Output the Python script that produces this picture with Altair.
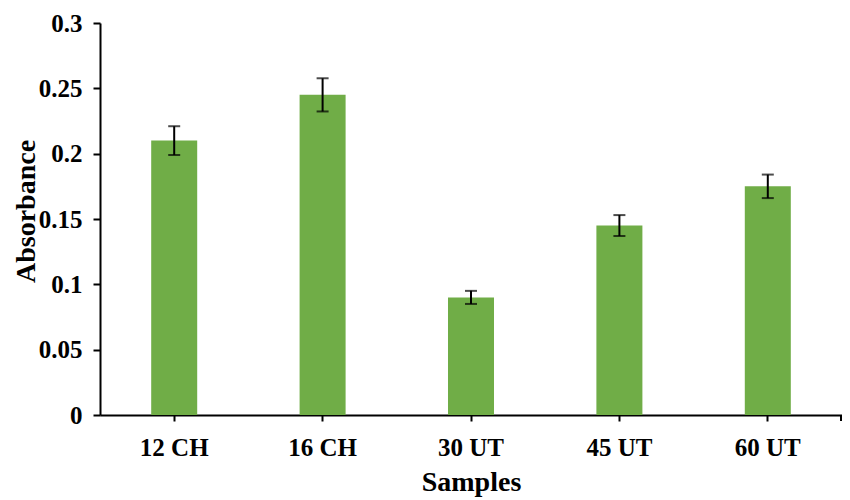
import altair as alt
import pandas as pd

samples = ["12 CH", "16 CH", "30 UT", "45 UT", "60 UT"]
absorbance = [0.21, 0.245, 0.09, 0.145, 0.175]
errors = [0.011, 0.0127, 0.005, 0.008, 0.009]
y_ticks = [0, 0.05, 0.1, 0.15, 0.2, 0.25, 0.3]

df = pd.DataFrame({"Samples": samples, "Absorbance": absorbance, "err": errors})
df["lo"] = df["Absorbance"] - df["err"]
df["hi"] = df["Absorbance"] + df["err"]

W, H = 742, 392
FONT = "Liberation Serif"

x_enc = alt.X(
    "Samples:N",
    sort=samples,
    scale=alt.Scale(paddingInner=0, paddingOuter=0),
    axis=alt.Axis(
        title="Samples",
        labelAngle=0,
        labelFont=FONT,
        labelFontSize=25,
        labelFontWeight="bold",
        labelColor="black",
        labelPadding=14,
        tickSize=6,
        tickWidth=2,
        tickColor="black",
        domainColor="black",
        domainWidth=2,
        titleFont=FONT,
        titleFontSize=28,
        titleFontWeight="bold",
        titleColor="black",
        titleY=67,
        titleBaseline="middle",
        grid=False,
    ),
)

y_scale = alt.Scale(domain=[0, 0.3], nice=False)

bars = alt.Chart(df).mark_bar(color="#70AD47", width={"band": 0.31}).encode(
    x=x_enc,
    y=alt.Y(
        "Absorbance:Q",
        scale=y_scale,
        axis=alt.Axis(
            title="Absorbance",
            values=y_ticks,
            format=".2~f",
            labelFont=FONT,
            labelFontSize=25,
            labelFontWeight="bold",
            labelColor="black",
            labelPadding=11,
            tickSize=7,
            tickWidth=2,
            tickColor="black",
            domainColor="black",
            domainWidth=2,
            titleFont=FONT,
            titleFontSize=28,
            titleFontWeight="bold",
            titleColor="black",
            titleX=-74,
            titleY=188,
            titleAlign="center",
            titleBaseline="middle",
            titleAngle=270,
            grid=False,
        ),
    ),
)

rules = alt.Chart(df).mark_rule(color="black", strokeWidth=2).encode(
    x=alt.X("Samples:N", sort=samples),
    y=alt.Y("lo:Q", scale=y_scale),
    y2="hi:Q",
)

caps_lo = alt.Chart(df).mark_tick(color="black", thickness=2, size=12, orient="horizontal").encode(
    x=alt.X("Samples:N", sort=samples),
    y=alt.Y("lo:Q", scale=y_scale),
)
caps_hi = alt.Chart(df).mark_tick(color="black", thickness=2, size=12, orient="horizontal").encode(
    x=alt.X("Samples:N", sort=samples),
    y=alt.Y("hi:Q", scale=y_scale),
)

end_tick = alt.Chart(pd.DataFrame({"a": [0]})).mark_rule(color="black", strokeWidth=2).encode(
    x=alt.value(W - 1),
    y=alt.value(H),
    y2=alt.value(H + 6),
)

chart = alt.layer(bars, rules, caps_lo, caps_hi, end_tick).properties(
    width=W,
    height=H,
    autosize=alt.AutoSizeParams(type="none"),
    padding={"left": 92, "top": 15, "right": 0, "bottom": 85},
    background="white",
).configure_view(stroke=None)

chart.save("out.html", embed_options={"renderer": "svg", "actions": False})
